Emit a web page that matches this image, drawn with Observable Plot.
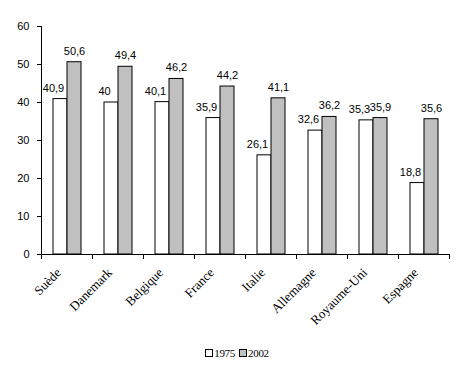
<!DOCTYPE html>
<html>
<head>
<meta charset="utf-8">
<script src="https://cdn.jsdelivr.net/npm/d3@7"></script>
<script src="https://cdn.jsdelivr.net/npm/@observablehq/plot@0.6"></script>
<style>
  body { margin: 0; background: #fff; }
  #chart { width: 466px; }
  .legend { font-family: "Liberation Serif", "Times New Roman", serif; font-size: 11px; letter-spacing: -0.3px; text-align: center; height: 30px; line-height: 14px; padding-top: 6px; padding-left: 8px; box-sizing: border-box; }
  .legend span.sw { display: inline-block; width: 6px; height: 6px; border: 1px solid #000; margin-right: 1px; vertical-align: 0px; }
  .legend span.item { margin: 0 2px; }
</style>
</head>
<body>
<div id="chart"></div>
<script>
const countries = ["Suède", "Danemark", "Belgique", "France", "Italie", "Allemagne", "Royaume-Uni", "Espagne"];
const years = ["1975", "2002"];
const values1975 = [40.9, 40, 40.1, 35.9, 26.1, 32.6, 35.3, 18.8];
const values2002 = [50.6, 49.4, 46.2, 44.2, 41.1, 36.2, 35.9, 35.6];
const yTicks = [0, 10, 20, 30, 40, 50, 60];
const colors = ["#ffffff", "#c0c0c0"];

const data = [];
countries.forEach((c, i) => {
  data.push({country: c, year: years[0], value: values1975[i]});
  data.push({country: c, year: years[1], value: values2002[i]});
});
const fmt = v => String(v).replace(".", ",");

const W = 466, H = 340, mT = 26, mB = 86, mL = 38, mR = 14;
const sans = "'Liberation Sans', Arial, sans-serif";
const serif = "'Liberation Serif', 'Times New Roman', serif";

const plot = Plot.plot({
  width: W,
  height: H,
  marginTop: mT,
  marginBottom: mB,
  marginLeft: mL,
  marginRight: mR,
  style: {fontFamily: sans, fontSize: "11px", background: "#fff", color: "#000"},
  fx: {domain: countries, padding: 0, label: null},
  x: {domain: years, paddingInner: 0, paddingOuter: 0.725, axis: null},
  y: {domain: [0, 60], ticks: yTicks, label: null, axis: null},
  color: {domain: years, range: colors},
  marks: [
    Plot.axisY({ticks: yTicks, tickSize: 4, tickPadding: 8, label: null, fontFamily: sans, fontSize: 11}),
    Plot.frame({anchor: "left", facet: "super"}),
    Plot.axisFx({anchor: "bottom", tickSize: 0, tickRotate: -45, tickPadding: 6, dx: -8, dy: 10, label: null, fontFamily: serif, fontSize: 13, style: {letterSpacing: "1px"}}),
    Plot.barY(data, {fx: "country", x: "year", y: "value", fill: "year", stroke: "#000", strokeWidth: 1}),
    Plot.ruleY([0], {stroke: "#000"}),
    Plot.frame({anchor: "left", insetTop: H - mT - mB, insetBottom: -4}),
    Plot.frame({anchor: "right", insetTop: H - mT - mB, insetBottom: -4}),
    Plot.text(data.filter(d => d.year === years[0]), {fx: "country", x: "year", y: "value", text: d => fmt(d.value), dy: -11, dx: -7, fontFamily: sans, fontSize: 11}),
    Plot.text(data.filter(d => d.year === years[1]), {fx: "country", x: "year", y: "value", text: d => fmt(d.value), dy: -11, fontFamily: sans, fontSize: 11})
  ]
});
document.getElementById("chart").appendChild(plot);

const legend = document.createElement("div");
legend.className = "legend";
legend.innerHTML = years.map((y, i) => `<span class="item"><span class="sw" style="background:${colors[i]}"></span>${y}</span>`).join("");
document.getElementById("chart").appendChild(legend);
</script>
</body>
</html>
